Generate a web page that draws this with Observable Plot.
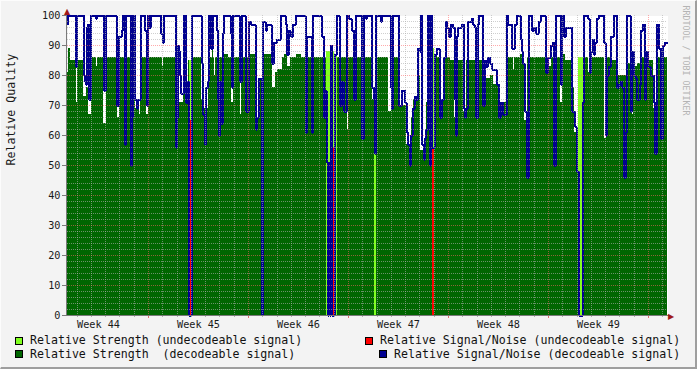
<!DOCTYPE html>
<html><head><meta charset="utf-8">
<script src="https://cdn.jsdelivr.net/npm/d3@7"></script>
<script src="https://cdn.jsdelivr.net/npm/@observablehq/plot@0.6"></script>
<style>
html,body{margin:0;padding:0;background:#f3f3f3;}
#wrap{position:relative;width:697px;height:369px;background:#f3f3f3;overflow:hidden;font-family:"DejaVu Sans Mono",monospace;}
#wrap svg{position:absolute;left:0;top:0;}
.edge{position:absolute;left:0;top:0;width:697px;height:369px;box-sizing:border-box;border-right:2px solid #9e9e9e;border-bottom:2px solid #9e9e9e;border-top:1px solid #fcfcfc;border-left:1px solid #fcfcfc;pointer-events:none;}
.lg{position:absolute;font-size:11.6px;line-height:12px;color:#111;white-space:pre;}
.sw{position:absolute;width:6px;height:6px;border:1px solid #000;}
</style></head><body>
<div id="wrap"></div>
<script>
// time in days since the start of the graph, value in %
const snrReadings = [[0,97],[0.049,100],[0.581,83],[0.679,100],[1.141,80],[1.211,78],[1.281,77],[1.351,96],[1.449,97],[1.491,72],[1.659,100],[1.96,99],[2.079,100],[2.541,75],[2.709,100],[3.43,70],[3.591,93],[3.78,95],[3.871,100],[3.941,95],[3.99,57],[4.081,100],[4.459,50],[4.529,66],[4.599,100],[4.739,72],[4.83,69],[4.921,72],[5.11,100],[5.411,95],[5.53,70],[5.621,100],[5.719,96],[5.859,100],[6.559,94],[6.65,91],[6.741,100],[7.609,56],[7.679,66],[7.721,90],[7.791,88],[7.889,80],[7.959,74],[8.169,100],[8.309,71],[8.4,78],[8.519,0],[8.729,100],[9.38,84],[9.471,67],[9.59,57],[9.681,76],[9.8,78],[9.891,100],[10.059,89],[10.171,100],[10.479,95],[10.549,72],[10.591,60],[10.689,78],[10.731,64],[10.871,94],[10.941,100],[11.41,94],[11.48,76],[11.571,100],[12.04,78],[12.18,100],[12.46,68],[12.691,98],[12.831,97],[13.16,62],[13.251,66],[13.419,79],[13.601,0],[13.671,98],[13.86,95],[13.979,97],[14.28,84],[14.441,91],[14.679,92],[14.91,100],[15.26,97],[15.379,87],[15.491,95],[15.61,93],[15.771,97],[15.96,100],[16.66,61],[16.73,73],[16.779,93],[17.08,61],[17.171,100],[17.78,93],[17.941,66],[18.06,75],[18.13,51],[18.2,0],[18.291,51],[18.361,0],[18.41,90],[18.529,0],[18.69,87],[18.879,100],[19.04,70],[19.18,78],[19.32,68],[19.579,100],[19.691,99],[19.88,95],[20.041,72],[20.16,100],[20.629,59],[20.741,100],[20.86,99],[20.979,100],[21.329,76],[21.441,72],[21.511,54],[21.609,100],[21.91,98],[22.029,100],[22.61,76],[22.68,69],[22.75,100],[23.191,70],[23.38,75],[23.611,71],[23.73,61],[23.849,57],[23.94,50],[24.059,60],[24.171,69],[24.29,73],[24.409,72],[24.521,89],[24.64,88],[24.71,100],[24.829,57],[24.92,52],[24.99,59],[25.109,62],[25.2,100],[25.34,50],[25.431,100],[25.529,56],[25.69,87],[25.879,89],[26.04,66],[26.18,72],[26.341,86],[26.46,98],[26.579,96],[26.67,93],[26.81,97],[26.971,96],[27.111,72],[27.181,60],[27.23,93],[27.349,96],[27.629,97],[27.741,69],[27.811,66],[27.909,69],[28.049,98],[28.28,99],[28.371,97],[28.49,96],[28.609,66],[28.721,97],[28.791,100],[29.071,70],[29.19,85],[29.309,83],[29.449,86],[29.561,84],[29.729,82],[30.03,77],[30.191,66],[30.31,71],[30.471,67],[30.73,100],[30.849,97],[31.129,89],[31.311,97],[31.479,100],[31.71,92],[31.829,88],[31.899,84],[31.99,68],[32.151,46],[32.291,100],[32.529,95],[32.641,96],[32.809,94],[32.991,98],[33.11,100],[33.46,81],[33.621,86],[33.81,90],[33.971,91],[34.041,50],[34.16,100],[34.51,77],[34.629,100],[34.741,93],[34.86,96],[35.329,68],[35.511,63],[35.63,61],[35.679,48],[35.791,0],[36.099,71],[36.141,100],[36.421,99],[36.54,81],[36.61,88],[36.771,92],[36.841,87],[36.911,91],[37.079,99],[37.191,100],[37.541,91],[37.66,62],[37.709,60],[37.779,80],[37.891,83],[38.01,93],[38.241,100],[38.479,76],[38.591,77],[38.71,78],[38.829,76],[38.941,46],[39.06,61],[39.151,100],[39.41,68],[39.529,88],[39.641,80],[39.76,79],[39.879,72],[40.04,77],[40.131,95],[40.271,97],[40.411,72],[40.509,88],[40.649,83],[40.81,80],[41.041,71],[41.111,54],[41.251,97],[41.391,89],[41.531,59],[41.671,90],[41.79,91],[42,91]];

const strengthReadings = [[0,81],[0.049,89],[0.21,85],[0.595,71],[0.679,85],[1.141,73],[1.33,76],[1.491,67],[1.659,86],[2.03,83],[2.079,86],[2.541,64],[2.73,86],[3.479,66],[3.619,86],[4.13,89],[4.221,86],[4.739,69],[5.019,67],[5.11,86],[5.53,67],[5.67,86],[6.65,83],[6.699,86],[7.56,76],[7.77,71],[8.12,85],[8.309,71],[8.449,85],[8.54,0],[8.729,86],[9.38,72],[9.541,69],[9.891,86],[10.15,90],[10.241,86],[10.29,80],[10.381,86],[10.99,87],[11.27,86],[11.459,71],[11.62,86],[12.11,67],[12.18,86],[12.691,87],[13.16,66],[13.44,79],[13.671,87],[14.329,76],[14.56,81],[14.679,82],[15.029,86],[15.211,87],[15.379,83],[15.61,86],[16.03,87],[16.38,86],[19.6,62],[19.649,86],[21.329,72],[21.511,0],[21.63,86],[22.491,68],[22.68,86],[23.191,70],[23.709,57],[24.059,66],[24.22,72],[24.521,80],[24.71,55],[25.109,71],[25.291,78],[25.69,87],[25.879,86],[26.04,71],[26.341,86],[26.81,85],[27.111,66],[27.279,85],[27.741,68],[27.909,85],[28.63,66],[28.721,85],[29.169,79],[29.61,80],[29.841,77],[30.191,67],[30.45,71],[30.779,86],[31.199,82],[31.29,86],[31.71,87],[31.99,65],[32.179,86],[33.46,81],[33.579,86],[33.691,83],[33.88,86],[34.51,71],[34.629,86],[34.741,87],[34.86,85],[35.329,76],[35.511,61],[35.791,0],[36.141,86],[36.491,81],[36.68,86],[37.611,59],[37.709,86],[38.01,88],[38.129,85],[38.591,80],[39.179,84],[39.529,67],[39.641,83],[39.879,84],[40.11,86],[40.46,72],[40.579,85],[41.041,69],[41.209,86],[42,86]];

// undecodeable periods: [start day, end day, value]
const undecStrength = [[8.54,8.729,85],[18.151,18.69,88],[18.83,18.879,88],[21.511,21.63,54],[25.571,25.69,89],[35.791,36.141,86]];
const undecSnr = [[8.561,8.68,65],[18.2,18.291,66],[18.599,18.69,56],[25.571,25.669,56]];

const weekLabels = ["Week 44","Week 45","Week 46","Week 47","Week 48","Week 49"];
const weekCenters = [2.17, 9.17, 16.17, 23.17, 30.17, 37.17];
const weekStarts = [5.67, 12.67, 19.67, 26.67, 33.67, 40.67];
const dayStarts = d3.range(0.67, 42, 1).filter(d => !weekStarts.some(w => Math.abs(w - d) < 0.01));
const yMajor = d3.range(0, 101, 10);
const yMinor = d3.range(0, 101, 2).filter(v => v % 10 !== 0);

const snr = snrReadings.map(([t, v]) => ({t, v}));
const strength = strengthReadings.map(([t, v]) => ({t, v}));
const lgRects = undecStrength.map(([t1, t2, v]) => ({t1, t2, v}));
const redRects = undecSnr.map(([t1, t2, v]) => ({t1, t2, v}));

const minorCol = "rgba(175,175,175,0.6)";
const majorCol = "rgba(255,100,100,0.55)";

const chart = Plot.plot({
  width: 697, height: 332,
  marginLeft: 67, marginRight: 30, marginTop: 15, marginBottom: 17,
  x: {type: "linear", domain: [0, 42], axis: null},
  y: {type: "linear", domain: [0, 100], axis: null},
  style: {background: "transparent", fontFamily: "'DejaVu Sans Mono', monospace", overflow: "visible", shapeRendering: "crispEdges"},
  marks: [
    Plot.frame({fill: "white", stroke: "none"}),
    Plot.areaY(strength, {x: "t", y1: 0, y2: "v", curve: "step-after", fill: "#006600"}),
    Plot.rect(lgRects, {x1: "t1", x2: "t2", y1: 0, y2: "v", fill: "#80ff20"}),
    Plot.rect(redRects, {x1: "t1", x2: "t2", y1: 0, y2: "v", fill: "#ff0000"}),
    Plot.lineY(snr, {x: "t", y: "v", curve: "step-after", stroke: "#000090", strokeWidth: 2}),
    Plot.ruleY(yMinor, {stroke: minorCol, strokeDasharray: "1,1"}),
    Plot.ruleX(dayStarts, {stroke: minorCol, strokeDasharray: "1,1"}),
    Plot.ruleY(yMajor.filter(v => v > 0 && v < 100), {stroke: majorCol, strokeDasharray: "1,1"}),
    Plot.ruleX(weekStarts, {stroke: majorCol, strokeDasharray: "1,1"}),
    // axis lines and ticks
    Plot.ruleX(dayStarts, {y1: 0, y2: -0.7, stroke: "#b0b0b0"}),
    Plot.ruleX(weekStarts, {y1: 0, y2: -0.9, stroke: "#e07070"}),
    Plot.ruleY([0], {x1: -0.25, x2: 42.2, stroke: "#7a7a7a"}),
    Plot.ruleX([0], {y1: 0, y2: 101.5, dx: -1, stroke: "#7a7a7a"}),
    Plot.axisY(yMajor, {tickSize: 5, tickPadding: 2, fontSize: 10.2, stroke: "#7a7a7a", fill: "#1a1a1a", label: null}),
    Plot.text(weekLabels, {x: (d, i) => weekCenters[i], y: 0, dy: 9, fontSize: 10.2, fill: "#1a1a1a"}),
    Plot.text(["\u25B2"], {x: 0, y: 101.4, dx: -0.5, fontSize: 8, fill: "#a01818", fontFamily: "DejaVu Sans"}),
    Plot.text(["\u25B6"], {x: 42.25, y: 0, dy: 0.5, fontSize: 8, fill: "#a01818", fontFamily: "DejaVu Sans"}),
    Plot.text(["Relative Quality"], {frameAnchor: "left", dx: -56, rotate: -90, fontSize: 11.6, fill: "#1a1a1a"}),
    Plot.text(["RRDTOOL / TOBI OETIKER"], {frameAnchor: "top-right", dx: 21, dy: -10, rotate: 90, textAnchor: "start", fontSize: 8.3, fill: "#b4b4b4"})
  ]
});

const wrap = document.getElementById("wrap");
wrap.appendChild(chart);

const legendItems = [
  {color: "#80ff20", text: "Relative Strength (undecodeable signal)", sx: 15, sy: 337, tx: 30, ty: 334},
  {color: "#006600", text: "Relative Strength  (decodeable signal)", sx: 15, sy: 350, tx: 30, ty: 347.7},
  {color: "#ff0000", text: "Relative Signal/Noise (undecodeable signal)", sx: 365, sy: 337, tx: 380, ty: 334},
  {color: "#000090", text: "Relative Signal/Noise (decodeable signal)", sx: 379, sy: 350, tx: 394, ty: 347.7}
];
for (const it of legendItems) {
  const sw = document.createElement("div");
  sw.className = "sw";
  sw.style.left = it.sx + "px"; sw.style.top = it.sy + "px"; sw.style.background = it.color;
  wrap.appendChild(sw);
  const tx = document.createElement("div");
  tx.className = "lg";
  tx.style.left = it.tx + "px"; tx.style.top = it.ty + "px";
  tx.textContent = it.text;
  wrap.appendChild(tx);
}
const edge = document.createElement("div");
edge.className = "edge";
wrap.appendChild(edge);
</script>
</body></html>
